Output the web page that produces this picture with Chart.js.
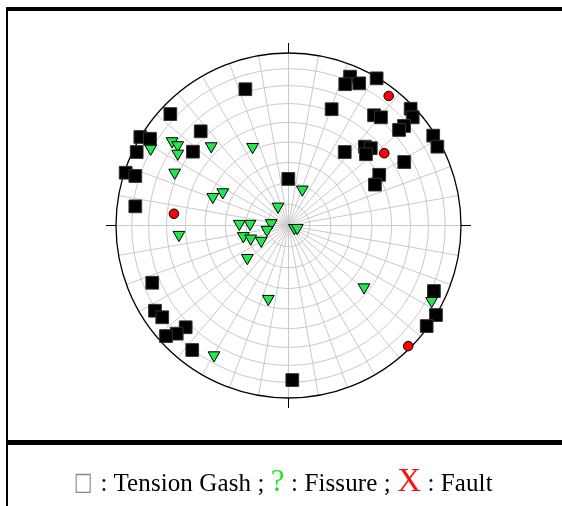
<!DOCTYPE html>
<html>
<head>
<meta charset="utf-8">
<script src="https://cdn.jsdelivr.net/npm/chart.js@4.4.0/dist/chart.umd.min.js"></script>
<style>
  body { margin: 0; background: #fff; }
  #wrap { position: relative; width: 562px; height: 506px; overflow: hidden; }
  #net { position: absolute; left: 0; top: 0; }
  .bar { position: absolute; background: #000; }
  #legend {
    position: absolute; left: 0; width: 566px; top: 462px;
    text-align: center; font-family: "Liberation Serif", "Times New Roman", serif;
    font-size: 25px; color: #000; white-space: nowrap; letter-spacing: 0.1px;
  }
  #legend .box {
    display: inline-block; color: #8a8a8a; font-family: "DejaVu Sans", sans-serif;
    font-size: 22px; transform: scale(0.9, 1.15); transform-origin: 50% 80%;
    position: relative; top: -1px;
  }
  #legend .q { color: #1ee81e; font-size: 31px; }
  #legend .x { color: #ff1010; font-size: 33px; }
</style>
</head>
<body>
<div id="wrap">
  <canvas id="net" width="562" height="506"></canvas>
  <div class="bar" style="left:6px; top:7px; width:556px; height:4px;"></div>
  <div class="bar" style="left:6px; top:7px; width:2px; height:499px;"></div>
  <div class="bar" style="left:6px; top:440px; width:556px; height:5px;"></div>
  <div id="legend"><span class="box">□</span> : Tension Gash ; <span class="q">?</span> : Fissure ; <span class="x">X</span> : Fault</div>
</div>
<script>
// net grid: dip rings and azimuth spokes (degrees)
var ringAngles = [10, 20, 30, 40, 50, 60, 70, 80];
var spokeAngles = [];
for (var a = 0; a < 360; a += 10) spokeAngles.push(a);

// poles (east, north)
var gashX = [-0.250, -0.685, -0.859, -0.803, -0.509, -0.554, -0.880, -0.944, -0.888, -0.888,
             -0.001, 0.357, 0.329, 0.410, 0.511, 0.250, 0.496, 0.536, 0.708, 0.720,
             0.670, 0.641, 0.839, 0.863, 0.326, 0.443, 0.477, 0.449, 0.671, 0.526,
             0.501, -0.790, -0.774, -0.732, -0.596, -0.648, -0.710, -0.558, 0.022, 0.843,
             0.855, 0.801];
var gashY = [0.790, 0.646, 0.513, 0.503, 0.546, 0.428, 0.426, 0.306, 0.287, 0.111,
             0.270, 0.863, 0.819, 0.824, 0.853, 0.674, 0.639, 0.627, 0.677, 0.627,
             0.577, 0.554, 0.521, 0.457, 0.426, 0.457, 0.448, 0.413, 0.368, 0.294,
             0.237, -0.332, -0.494, -0.532, -0.590, -0.627, -0.641, -0.722, -0.896, -0.380,
             -0.519, -0.583];

var fissureX = [-0.675, -0.642, -0.642, -0.799, -0.448, -0.208, -0.660, -0.439, -0.381, -0.061,
                0.080, -0.285, -0.223, -0.100, -0.125, 0.034, 0.051, -0.262, -0.219, -0.158,
                -0.239, -0.635, -0.117, -0.432, 0.438, 0.830];
var fissureY = [0.489, 0.466, 0.417, 0.446, 0.460, 0.456, 0.307, 0.166, 0.193, 0.110,
                0.209, 0.010, 0.010, 0.014, -0.025, -0.014, -0.014, -0.061, -0.075, -0.088,
                -0.188, -0.054, -0.425, -0.752, -0.358, -0.437];

var faultX = [-0.664, 0.581, 0.555, 0.694];
var faultY = [0.068, 0.751, 0.419, -0.699];

function toPoints(xs, ys) {
    var pts = [];
    for (let i = 0; i < xs.length; i++) {
        pts.push({ x: xs[i], y: ys[i] });
    }
    return pts;
}

// draws the equal-area net under the points
var netGrid = {
    id: "netGrid",
    beforeDatasetsDraw(chart) {
        var ctx = chart.ctx;
        var sx = chart.scales.x, sy = chart.scales.y;
        var cx = sx.getPixelForValue(0);
        var cy = sy.getPixelForValue(0);
        var R = sx.getPixelForValue(1) - cx;
        ctx.save();
        ctx.beginPath();
        ctx.arc(cx, cy, R, 0, Math.PI * 2);
        ctx.clip();
        ctx.strokeStyle = "#c9c9c9";
        ctx.lineWidth = 1;
        ringAngles.forEach((d) => {
            var r = R * Math.SQRT2 * Math.sin((d * Math.PI) / 360);
            ctx.beginPath();
            ctx.arc(cx, cy, r, 0, Math.PI * 2);
            ctx.stroke();
        });
        spokeAngles.forEach((az) => {
            var t = (az * Math.PI) / 180;
            ctx.beginPath();
            ctx.moveTo(cx, cy);
            ctx.lineTo(cx + R * Math.sin(t), cy - R * Math.cos(t));
            ctx.stroke();
        });
        ctx.restore();

        ctx.save();
        ctx.strokeStyle = "#000";
        ctx.lineWidth = 1.3;
        ctx.beginPath();
        ctx.arc(cx, cy, R, 0, Math.PI * 2);
        ctx.stroke();
        ctx.lineWidth = 1;
        ctx.beginPath();
        ctx.moveTo(cx, cy - R); ctx.lineTo(cx, cy - R - 10);
        ctx.moveTo(cx, cy + R); ctx.lineTo(cx, cy + R + 10);
        ctx.moveTo(cx - R, cy); ctx.lineTo(cx - R - 10, cy);
        ctx.moveTo(cx + R, cy); ctx.lineTo(cx + R + 10, cy);
        ctx.stroke();
        ctx.restore();
    },
};

var ctx = document.getElementById("net");
var netChart = new Chart(ctx, {
    type: "scatter",
    data: {
        datasets: [
            {
                label: "Fissure",
                data: toPoints(fissureX, fissureY),
                pointStyle: "triangle",
                rotation: 180,
                pointRadius: 6.8,
                backgroundColor: "#22e850",
                borderColor: "#000",
                borderWidth: 1,
                clip: false,
            },
            {
                label: "Tension Gash",
                data: toPoints(gashX, gashY),
                pointStyle: "rect",
                pointRadius: 9,
                backgroundColor: "#000",
                borderColor: "#333",
                borderWidth: 1,
                clip: false,
            },
            {
                label: "Fault",
                data: toPoints(faultX, faultY),
                pointStyle: "circle",
                pointRadius: 4.8,
                backgroundColor: "#ff0000",
                borderColor: "#000",
                borderWidth: 1,
                clip: false,
            },
        ],
    },
    options: {
        responsive: false,
        animation: false,
        layout: { padding: { left: 116, right: 101, top: 53, bottom: 108 } },
        scales: {
            x: { type: "linear", min: -1, max: 1, display: false },
            y: { type: "linear", min: -1, max: 1, display: false },
        },
        plugins: {
            legend: { display: false },
            tooltip: { enabled: false },
        },
    },
    plugins: [netGrid],
});
</script>
</body>
</html>
